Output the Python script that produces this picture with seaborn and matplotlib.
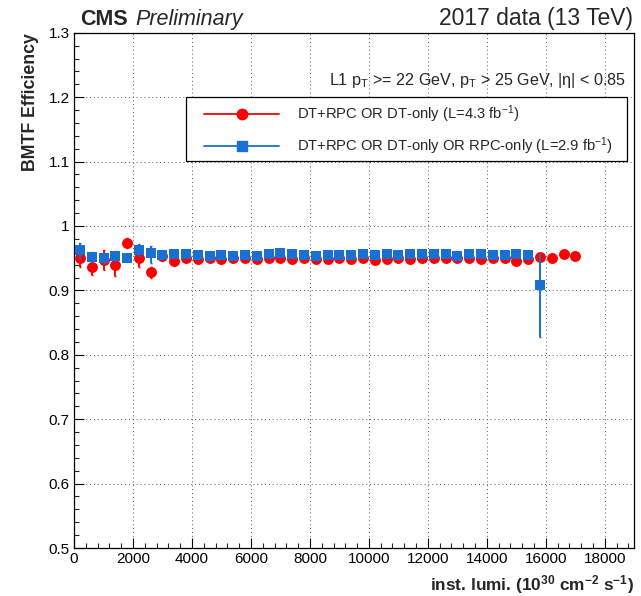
import matplotlib
matplotlib.use("Agg")
import matplotlib.pyplot as plt
from matplotlib.lines import Line2D
from matplotlib.patches import Rectangle
from matplotlib.ticker import MultipleLocator
import seaborn as sns
import pandas as pd

# Instantaneous luminosity bin centres (10^30 cm^-2 s^-1)
lumi_dt = [200, 600, 1000, 1400, 1800, 2200, 2600, 3000, 3400, 3800,
           4200, 4600, 5000, 5400, 5800, 6200, 6600, 7000, 7400, 7800,
           8200, 8600, 9000, 9400, 9800, 10200, 10600, 11000, 11400, 11800,
           12200, 12600, 13000, 13400, 13800, 14200, 14600, 15000, 15400, 15800,
           16200, 16600, 17000]
# DT+RPC OR DT-only efficiency
eff_dt = [0.951, 0.937, 0.947, 0.939, 0.974, 0.950, 0.928, 0.953, 0.945, 0.951,
          0.949, 0.950, 0.949, 0.950, 0.950, 0.948, 0.950, 0.950, 0.949, 0.950,
          0.949, 0.949, 0.950, 0.948, 0.950, 0.947, 0.949, 0.950, 0.949, 0.950,
          0.951, 0.950, 0.951, 0.950, 0.949, 0.951, 0.950, 0.946, 0.949, 0.952,
          0.950, 0.956, 0.954]
err_dt = [0.015, 0.013, 0.015, 0.016, 0.008, 0.013, 0.009, 0.007, 0.006, 0.004,
          0.004, 0.003, 0.003, 0.003, 0.003, 0.003, 0.003, 0.003, 0.003, 0.003,
          0.003, 0.003, 0.003, 0.003, 0.003, 0.003, 0.003, 0.003, 0.003, 0.003,
          0.003, 0.003, 0.003, 0.003, 0.003, 0.003, 0.003, 0.003, 0.004, 0.004,
          0.004, 0.004, 0.004]

lumi_rpc = [200, 600, 1000, 1400, 1800, 2200, 2600, 3000, 3400, 3800,
            4200, 4600, 5000, 5400, 5800, 6200, 6600, 7000, 7400, 7800,
            8200, 8600, 9000, 9400, 9800, 10200, 10600, 11000, 11400, 11800,
            12200, 12600, 13000, 13400, 13800, 14200, 14600, 15000, 15400, 15800]
# DT+RPC OR DT-only OR RPC-only efficiency
eff_rpc = [0.963, 0.952, 0.951, 0.954, 0.951, 0.963, 0.958, 0.955, 0.956, 0.956,
           0.955, 0.954, 0.955, 0.954, 0.955, 0.953, 0.956, 0.958, 0.957, 0.955,
           0.954, 0.955, 0.955, 0.955, 0.956, 0.955, 0.956, 0.955, 0.957, 0.956,
           0.957, 0.957, 0.954, 0.956, 0.956, 0.955, 0.955, 0.956, 0.955, 0.909]
err_rpc_lo = [0.012, 0.008, 0.008, 0.008, 0.006, 0.010, 0.016, 0.005, 0.004, 0.003,
              0.003, 0.003, 0.003, 0.003, 0.003, 0.003, 0.003, 0.003, 0.003, 0.003,
              0.003, 0.003, 0.003, 0.003, 0.003, 0.003, 0.003, 0.003, 0.003, 0.003,
              0.003, 0.003, 0.003, 0.003, 0.003, 0.003, 0.003, 0.003, 0.004, 0.081]
err_rpc_hi = [0.010, 0.007, 0.007, 0.007, 0.005, 0.009, 0.011, 0.005, 0.004, 0.003,
              0.003, 0.003, 0.003, 0.003, 0.003, 0.003, 0.003, 0.003, 0.003, 0.003,
              0.003, 0.003, 0.003, 0.003, 0.003, 0.003, 0.003, 0.003, 0.003, 0.003,
              0.003, 0.003, 0.003, 0.003, 0.003, 0.003, 0.003, 0.003, 0.004, 0.048]

label_dt = r"DT+RPC OR DT-only (L=4.3 fb$^{-1}$)"
label_rpc = r"DT+RPC OR DT-only OR RPC-only (L=2.9 fb$^{-1}$)"
red = "#ff0000"
blue = "#1a6fd2"

sns.set_style("white")
plt.rcParams["font.family"] = ["Liberation Sans", "DejaVu Sans"]
plt.rcParams["mathtext.fontset"] = "custom"
plt.rcParams["mathtext.rm"] = "Liberation Sans"
plt.rcParams["mathtext.it"] = "Liberation Sans:italic"
plt.rcParams["mathtext.bf"] = "Liberation Sans:bold"

df_dt = pd.DataFrame({"lumi": lumi_dt, "eff": eff_dt})
df_rpc = pd.DataFrame({"lumi": lumi_rpc, "eff": eff_rpc})

fig = plt.figure(figsize=(6.41, 5.96), dpi=100)
ax = fig.add_axes([0.1155, 0.0805, 0.874, 0.8645])

# DT-based efficiency (drawn first, underneath)
ax.errorbar(lumi_dt, eff_dt, yerr=err_dt, fmt="none", ecolor=red,
            elinewidth=1.4, capsize=1, zorder=3)
sns.scatterplot(data=df_dt, x="lumi", y="eff", ax=ax, color=red, marker="o",
                s=62, edgecolor=red, linewidth=0, zorder=4, legend=False)

# DT+RPC efficiency on top
ax.errorbar(lumi_rpc, eff_rpc, yerr=[err_rpc_lo, err_rpc_hi], fmt="none",
            ecolor=blue, elinewidth=1.4, capsize=1, zorder=5)
sns.scatterplot(data=df_rpc, x="lumi", y="eff", ax=ax, color=blue, marker="s",
                s=58, edgecolor=blue, linewidth=0, zorder=6, legend=False)

ax.set_xlim(0, 19000)
ax.set_ylim(0.5, 1.3)
ax.xaxis.set_major_locator(MultipleLocator(2000))
ax.xaxis.set_minor_locator(MultipleLocator(400))
ax.yaxis.set_major_locator(MultipleLocator(0.1))
ax.yaxis.set_minor_locator(MultipleLocator(0.02))
ax.set_yticks([0.5, 0.6, 0.7, 0.8, 0.9, 1.0, 1.1, 1.2, 1.3])
ax.set_yticklabels(["0.5", "0.6", "0.7", "0.8", "0.9", "1", "1.1", "1.2", "1.3"])
ax.tick_params(axis="both", which="major", direction="in", length=7, width=0.8,
               labelsize=11, colors="black", pad=3, top=False, right=False,
               bottom=True, left=True)
ax.tick_params(axis="both", which="minor", direction="in", length=3.5, width=0.8,
               top=False, right=False, bottom=True, left=True)
ax.grid(True, which="major", color="#555555", linestyle=(0, (1, 3)), linewidth=0.7)
for sp in ax.spines.values():
    sp.set_color("black")
    sp.set_linewidth(0.9)

ax.set_xlabel(r"inst. lumi. (10$^{\mathbf{30}}$ cm$^{\mathbf{-2}}$ s$^{\mathbf{-1}}$)",
              fontsize=12.4, fontweight="bold", loc="right", labelpad=5)
ax.set_ylabel("BMTF Efficiency", fontsize=12.8, fontweight="bold", loc="top",
              labelpad=7)

fig.text(0.125, 0.958, "CMS", fontsize=15.5, fontweight="bold", ha="left", va="baseline")
fig.text(0.211, 0.958, "Preliminary", fontsize=15.5, style="italic", ha="left", va="baseline")
fig.text(0.988, 0.958, "2017 data (13 TeV)", fontsize=16.5, ha="right", va="baseline")

ax.text(0.985, 0.898, r"L1 p$_{\rm T}$ >= 22 GeV, p$_{\rm T}$ > 25 GeV, |η| < 0.85",
        transform=ax.transAxes, fontsize=11.6, ha="right", va="baseline")

# Legend frame and entries
ax.add_patch(Rectangle((0.2, 0.751), 0.7875, 0.124, transform=ax.transAxes,
                       facecolor="white", edgecolor="black", linewidth=0.9,
                       zorder=8))
handles = [
    Line2D([], [], color=red, marker="o", markersize=7.5, linewidth=1.3),
    Line2D([], [], color=blue, marker="s", markersize=7, linewidth=1.3),
]
leg = ax.legend(handles, [label_dt, label_rpc], loc="center left",
                bbox_to_anchor=(0.232, 0.811), fontsize=10.6, frameon=False,
                handlelength=5.1, handletextpad=1.2, labelspacing=0.72,
                borderpad=0, borderaxespad=0)
leg.set_zorder(9)

fig.savefig("out.png", dpi=100)
